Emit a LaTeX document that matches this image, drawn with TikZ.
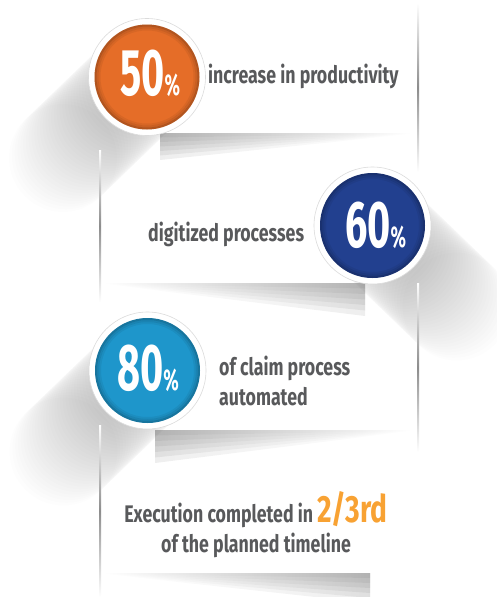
\documentclass[tikz,border=0pt]{standalone}
\usepackage{fontspec}
\newfontfamily\cond{Fira Sans}[FakeStretch=0.74]
\newfontfamily\condnum{Fira Sans}[FakeStretch=0.6]
\definecolor{txtgray}{HTML}{58595B}
\definecolor{orangefifty}{HTML}{E56D28}
\definecolor{bluesixty}{HTML}{22408F}
\definecolor{cyaneighty}{HTML}{1E96CB}
\definecolor{ambertime}{HTML}{F8A233}
\begin{document}
\begin{tikzpicture}[x=1pt,y=-1pt,line cap=round,line join=round,
    lbl/.style={text=txtgray,font=\cond\bfseries\fontsize{24}{30}\selectfont,inner sep=0pt},
    num/.style={text=white,font=\condnum\bfseries,inner sep=0pt},
    ring/.style={circle,fill=white,draw=black!14,line width=0.6pt,minimum size=117pt,inner sep=0pt},
    disk/.style={circle,minimum size=105pt,inner sep=0pt}]
\clip (0,0) rectangle (497,597);
% long shadows of the discs
\foreach \cx/\cy/\dx in {147/77/-1,372.5/225.5/1,147.5/370.5/-1}
  \foreach \i in {1,...,30}
    \fill[black,opacity=0.0075] (\cx+\dx*\i*2.8,\cy+\i*2.7) circle(54pt);
% side edges of the cards
\foreach \x/\ya/\yb in {417/3/172,99/150/302,417/283/452,99/425/597}
  \fill[top color=white,bottom color=white,middle color=black!45] (\x,\ya) rectangle (\x+2,\yb);
% curled shadows under the cards
\foreach \k in {1,...,6}{
  \shade[left color=black!60,right color=white,opacity=0.11] (160,133)--(410,133)--(410,134)--(160,133+4.5*\k)--cycle;
  \shade[left color=white,right color=black!60,opacity=0.11] (105,283)--(365,283)--(365,283+5.5*\k)--(105,284)--cycle;
  \shade[left color=black!60,right color=white,opacity=0.11] (155,430)--(410,430)--(410,431)--(155,430+5.5*\k)--cycle;
  \shade[left color=white,right color=black!60,opacity=0.11] (105,573)--(370,573)--(370,573+5*\k)--(105,574)--cycle;
}
% discs
\foreach \cx/\cy/\col/\nm/\rn in {147/77/orangefifty/c1/r1,372.5/225.5/bluesixty/c2/r2,147.5/370.5/cyaneighty/c3/r3}{
  \node[ring] (\rn) at (\cx,\cy) {};
  \node[disk,fill=\col] (\nm) at (\cx,\cy) {};
  \foreach \r/\o in {51.5/0.22,49.5/0.12,47.5/0.06}
    \draw[black,opacity=\o,line width=2pt] (\nm) circle(\r pt);
}
\node[num,anchor=base west] (n1) at (120,95) {\fontsize{66}{66}\selectfont 50\fontsize{30}{30}\selectfont\%};
\node[num,anchor=base west] (n2) at (345,247) {\fontsize{66}{66}\selectfont 60\fontsize{30}{30}\selectfont\%};
\node[num,anchor=base west] (n3) at (117,390) {\fontsize{66}{66}\selectfont 80\fontsize{30}{30}\selectfont\%};
% labels
\node[lbl,anchor=base west] (t1) at (208,83) {increase in productivity};
\node[lbl,anchor=base west] (t2) at (148,241) {digitized processes};
\node[lbl,anchor=base west] (t3) at (219,375) {of claim process};
\node[lbl,anchor=base west] (t3b) at (219,405) {automated};
\node[lbl,anchor=base] (t4) at (256,522) {Execution completed in {\color{ambertime}\fontsize{38}{38}\selectfont 2/3rd}};
\node[lbl,anchor=base] (t4b) at (256,552) {of the planned timeline};
\end{tikzpicture}
\end{document}
